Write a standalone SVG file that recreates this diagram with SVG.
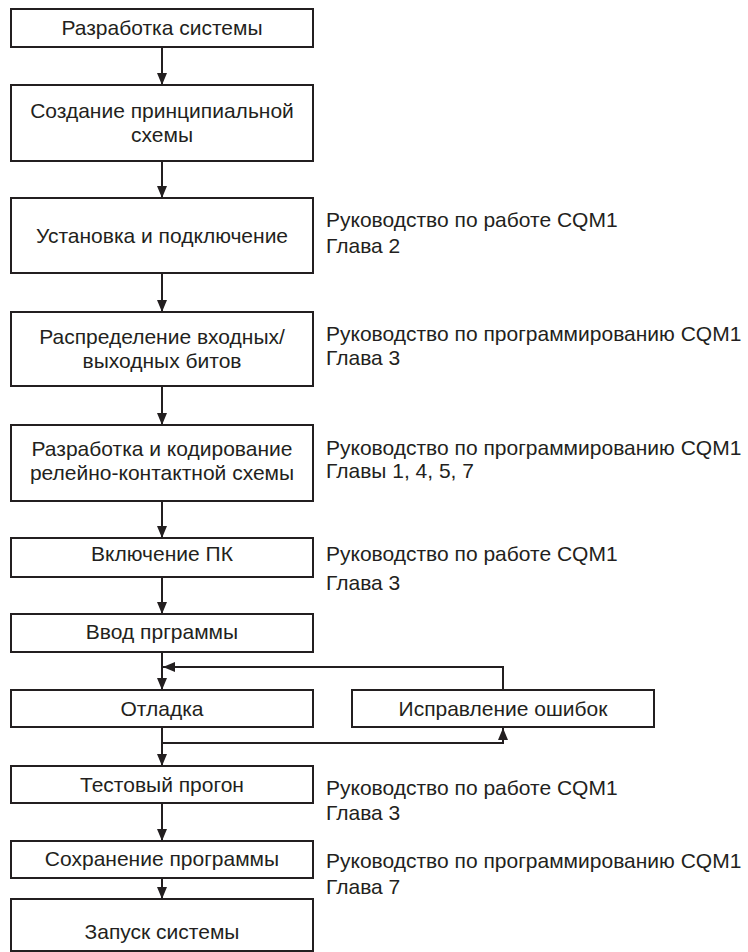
<svg xmlns="http://www.w3.org/2000/svg" width="748" height="952" viewBox="0 0 748 952">
<defs>
<style>
.box{fill:#fff;stroke:#231f20;stroke-width:2}
.t{font-family:"Liberation Sans",Arial,sans-serif;font-size:21px;fill:#231f20;text-anchor:middle}
.r{font-family:"Liberation Sans",Arial,sans-serif;font-size:21px;fill:#231f20}
.c{fill:none;stroke:#231f20;stroke-width:2}
</style>
<marker id="ah" viewBox="0 0 12 10" refX="12" refY="5" markerWidth="12" markerHeight="10" markerUnits="userSpaceOnUse" orient="auto">
<path d="M0,0 L12,5 L0,10 z" fill="#231f20"/>
</marker>
</defs>
<rect width="748" height="952" fill="#fff"/>
<g id="connectors">
<line class="c" x1="162" y1="47" x2="162" y2="85" marker-end="url(#ah)"/>
<line class="c" x1="162" y1="161" x2="162" y2="198" marker-end="url(#ah)"/>
<line class="c" x1="162" y1="273" x2="162" y2="312" marker-end="url(#ah)"/>
<line class="c" x1="162" y1="386" x2="162" y2="425" marker-end="url(#ah)"/>
<line class="c" x1="162" y1="501" x2="162" y2="538" marker-end="url(#ah)"/>
<line class="c" x1="162" y1="577" x2="162" y2="614" marker-end="url(#ah)"/>
<line class="c" x1="162" y1="652" x2="162" y2="690" marker-end="url(#ah)"/>
<polyline class="c" points="503,690 503,667 163,667" marker-end="url(#ah)"/>
<line class="c" x1="162" y1="727" x2="162" y2="766" marker-end="url(#ah)"/>
<polyline class="c" points="162,743 503,743 503,728" marker-end="url(#ah)"/>
<line class="c" x1="162" y1="803" x2="162" y2="841" marker-end="url(#ah)"/>
<line class="c" x1="162" y1="878" x2="162" y2="899" marker-end="url(#ah)"/>
</g>
<g id="n1"><rect class="box" x="11" y="9" width="302" height="38"/><text class="t" x="162" y="35">Разработка системы</text></g>
<g id="n2"><rect class="box" x="11" y="85" width="302" height="76"/><text class="t" x="162" y="118">Создание принципиальной</text><text class="t" x="162" y="142">схемы</text></g>
<g id="n3"><rect class="box" x="11" y="198" width="302" height="75"/><text class="t" x="162" y="243">Установка и подключение</text></g>
<g id="n4"><rect class="box" x="11" y="312" width="302" height="74"/><text class="t" x="162" y="344">Распределение входных/</text><text class="t" x="162" y="368">выходных битов</text></g>
<g id="n5"><rect class="box" x="11" y="425" width="302" height="76"/><text class="t" x="162" y="456">Разработка и кодирование</text><text class="t" x="162" y="480">релейно-контактной схемы</text></g>
<g id="n6"><rect class="box" x="11" y="538" width="302" height="39"/><text class="t" x="162" y="561">Включение ПК</text></g>
<g id="n7"><rect class="box" x="11" y="614" width="302" height="38"/><text class="t" x="162" y="639">Ввод прграммы</text></g>
<g id="n8"><rect class="box" x="11" y="690" width="302" height="37"/><text class="t" x="162" y="716">Отладка</text></g>
<g id="n9"><rect class="box" x="352" y="690" width="302" height="37"/><text class="t" x="503" y="716">Исправление ошибок</text></g>
<g id="n10"><rect class="box" x="11" y="766" width="302" height="37"/><text class="t" x="162" y="792">Тестовый прогон</text></g>
<g id="n11"><rect class="box" x="11" y="841" width="302" height="37"/><text class="t" x="162" y="866">Сохранение программы</text></g>
<g id="n12"><rect class="box" x="11" y="899" width="302" height="52"/><text class="t" x="162" y="939">Запуск системы</text></g>
<g id="notes">
<text class="r" x="326" y="227">Руководство по работе CQM1</text>
<text class="r" x="326" y="253">Глава 2</text>
<text class="r" x="326" y="341">Руководство по программированию CQM1</text>
<text class="r" x="326" y="365">Глава 3</text>
<text class="r" x="326" y="455">Руководство по программированию CQM1</text>
<text class="r" x="326" y="478">Главы 1, 4, 5, 7</text>
<text class="r" x="326" y="561">Руководство по работе CQM1</text>
<text class="r" x="326" y="590">Глава 3</text>
<text class="r" x="326" y="795">Руководство по работе CQM1</text>
<text class="r" x="326" y="820">Глава 3</text>
<text class="r" x="326" y="868">Руководство по программированию CQM1</text>
<text class="r" x="326" y="894">Глава 7</text>
</g>
</svg>
